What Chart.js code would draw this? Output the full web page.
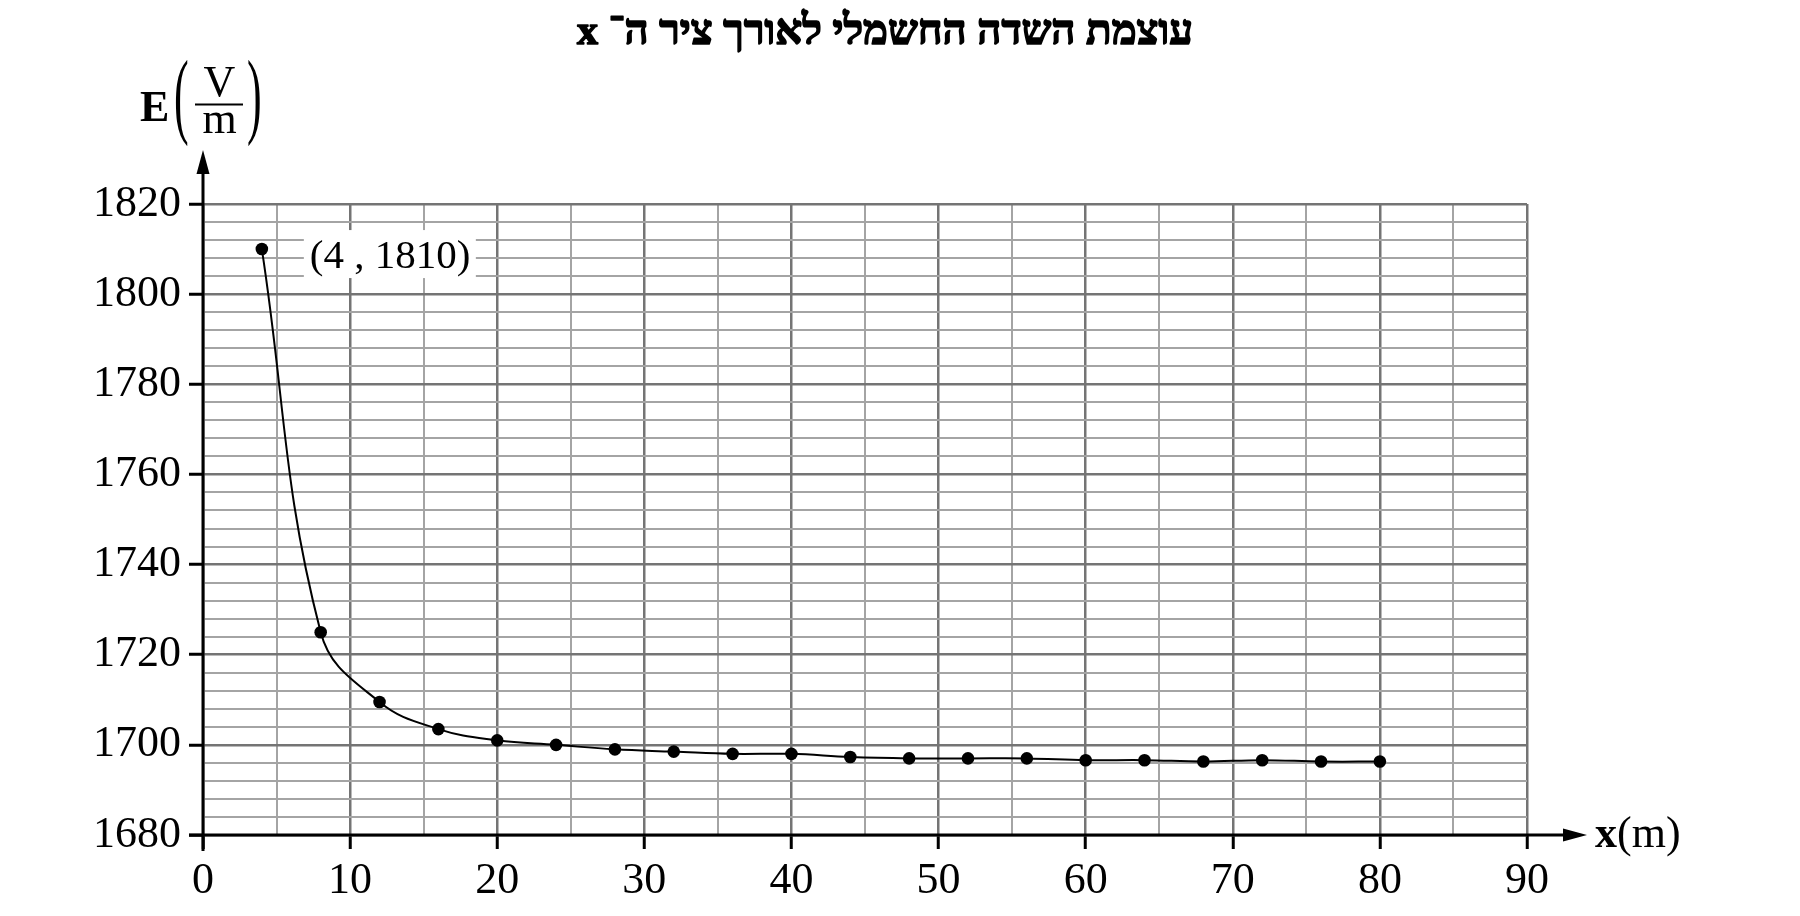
<!DOCTYPE html>
<html>
<head>
<meta charset="utf-8">
<script src="https://cdn.jsdelivr.net/npm/chart.js@4.4.0/dist/chart.umd.min.js"></script>
<style>
    html, body { margin: 0; padding: 0; background: #fff; }
    canvas { display: block; }
</style>
</head>
<body>
<canvas id="chart" width="1800" height="916"></canvas>
<script>
const titleText = 'עוצמת השדה החשמלי לאורך ציר ה־ x';

// distance along the x axis (m)
const xValues = [4, 8, 12, 16, 20, 24, 28, 32, 36, 40, 44, 48, 52, 56, 60, 64, 68, 72, 76, 80];
// field strength E (V/m)
const eValues = [1810, 1725, 1709.5, 1703.5, 1701, 1700, 1699, 1698.5, 1698, 1698,
    1697.3, 1697, 1697, 1697, 1696.6, 1696.6, 1696.3, 1696.6, 1696.3, 1696.3];

const xTickLabels = [0, 10, 20, 30, 40, 50, 60, 70, 80, 90];
const yTickLabels = [1680, 1700, 1720, 1740, 1760, 1780, 1800, 1820];
const markedPoint = '(4 , 1810)';

const serif = '"Liberation Serif", "Times New Roman", serif';
const majorGrid = '#747474';
const minorGrid = '#a4a4a4';

const isMajorX = v => xTickLabels.includes(v);
const isMajorY = v => yTickLabels.includes(v);

const gridFor = isMajor => ({
    color: ctx => isMajor(ctx.tick.value) ? majorGrid : minorGrid,
    lineWidth: ctx => isMajor(ctx.tick.value) ? 2.5 : 2,
    tickColor: ctx => isMajor(ctx.tick.value) ? '#000' : 'rgba(0,0,0,0)',
    tickLength: 14,
    tickWidth: 3
});

const decorations = {
    id: 'decorations',
    afterDraw(chart) {
        const {ctx, chartArea, scales: {x, y}} = chart;
        const x0 = x.getPixelForValue(0);
        const y0 = y.getPixelForValue(1680);
        ctx.save();

        // title (stroked as well, the Hebrew face has no bold)
        ctx.fillStyle = '#000';
        ctx.strokeStyle = '#000';
        ctx.direction = 'rtl';
        ctx.textAlign = 'center';
        ctx.textBaseline = 'alphabetic';
        ctx.font = 'bold 42px ' + serif;
        ctx.lineWidth = 1.6;
        ctx.lineJoin = 'round';
        ctx.fillText(titleText, 885, 44);
        ctx.strokeText(titleText, 885, 44);
        ctx.direction = 'ltr';

        // label of the first point, on a white box
        const px = x.getPixelForValue(xValues[0]);
        const py = y.getPixelForValue(eValues[0]);
        ctx.fillStyle = '#fff';
        ctx.fillRect(px + 42, py - 19, 172, 48);
        ctx.fillStyle = '#000';
        ctx.textAlign = 'left';
        ctx.font = '41px ' + serif;
        ctx.fillText(markedPoint, px + 48, py + 19);

        // axes with arrows
        ctx.lineWidth = 3;
        ctx.beginPath();
        ctx.moveTo(x0, y0 + 16);
        ctx.lineTo(x0, chartArea.top - 30);
        ctx.moveTo(x0 - 14, y0);
        ctx.lineTo(x.right + 38, y0);
        ctx.stroke();
        ctx.beginPath();
        ctx.moveTo(x0, chartArea.top - 54);
        ctx.lineTo(x0 - 6.5, chartArea.top - 30);
        ctx.lineTo(x0 + 6.5, chartArea.top - 30);
        ctx.closePath();
        ctx.fill();
        ctx.beginPath();
        ctx.moveTo(x.right + 60, y0);
        ctx.lineTo(x.right + 36, y0 - 6.5);
        ctx.lineTo(x.right + 36, y0 + 6.5);
        ctx.closePath();
        ctx.fill();

        // y title: E (V / m)
        ctx.font = 'bold 44px ' + serif;
        ctx.textAlign = 'left';
        ctx.fillText('E', 140, 121);
        ctx.font = '44px ' + serif;
        ctx.save();
        ctx.scale(1, 2.15);
        ctx.fillText('(', 174, 126 / 2.15);
        ctx.fillText(')', 247, 126 / 2.15);
        ctx.restore();
        ctx.textAlign = 'center';
        ctx.fillText('V', 219.5, 96);
        ctx.fillText('m', 219.5, 133);
        ctx.lineWidth = 2;
        ctx.beginPath();
        ctx.moveTo(195, 104.5);
        ctx.lineTo(243, 104.5);
        ctx.stroke();

        // x title: x (m)
        ctx.textAlign = 'left';
        const lx = x.right + 68;
        ctx.font = 'bold 44px ' + serif;
        ctx.fillText('x', lx, y0 + 12);
        const w = ctx.measureText('x').width;
        ctx.font = '44px ' + serif;
        ctx.fillText('(m)', lx + w, y0 + 12);

        ctx.restore();
    }
};

const config = {
    type: 'line',
    data: {
        datasets: [{
            data: xValues.map((v, i) => ({x: v, y: eValues[i]})),
            borderColor: '#000',
            borderWidth: 2,
            backgroundColor: '#000',
            pointBackgroundColor: '#000',
            pointBorderWidth: 0,
            pointRadius: 6.3,
            tension: 0.4,
            fill: false
        }]
    },
    options: {
        responsive: false,
        devicePixelRatio: 1,
        animation: false,
        layout: {
            padding: {top: 204, right: 273, left: 0, bottom: 0}
        },
        plugins: {
            legend: {display: false},
            tooltip: {enabled: false},
            title: {display: false}
        },
        scales: {
            x: {
                type: 'linear',
                min: 0,
                max: 90,
                border: {display: false},
                grid: gridFor(isMajorX),
                ticks: {
                    stepSize: 5,
                    autoSkip: false,
                    maxRotation: 0,
                    padding: 6,
                    color: '#000',
                    font: {family: serif, size: 44},
                    callback: v => isMajorX(v) ? v : ''
                },
                afterFit: scale => { scale.height = 81; }
            },
            y: {
                type: 'linear',
                min: 1680,
                max: 1820,
                border: {display: false},
                grid: gridFor(isMajorY),
                ticks: {
                    stepSize: 4,
                    autoSkip: false,
                    padding: 8,
                    color: '#000',
                    font: {family: serif, size: 44},
                    callback: v => isMajorY(v) ? v : ''
                },
                afterFit: scale => { scale.width = 203; }
            }
        }
    },
    plugins: [decorations]
};

window.onload = () => {
    const ctx = document.getElementById('chart').getContext('2d');
    window.myChart = new Chart(ctx, config);
};
</script>
</body>
</html>
